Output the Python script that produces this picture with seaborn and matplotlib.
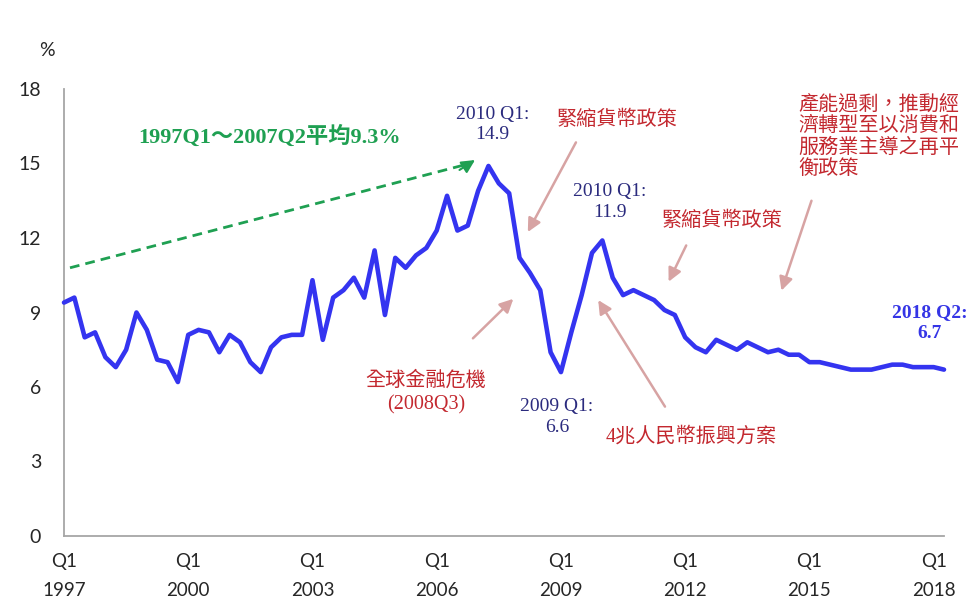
import matplotlib
matplotlib.use("Agg")
import matplotlib.pyplot as plt
import seaborn as sns
import pandas as pd

# China real GDP growth, year-on-year, quarterly 1997Q1 - 2018Q2
start_year = 1997
gdp_growth = [
    9.4, 9.6, 8.0, 8.2,      # 1997
    7.2, 6.8, 7.5, 9.0,      # 1998
    8.3, 7.1, 7.0, 6.2,      # 1999
    8.1, 8.3, 8.2, 7.4,      # 2000
    8.1, 7.8, 7.0, 6.6,      # 2001
    7.6, 8.0, 8.1, 8.1,      # 2002
    10.3, 7.9, 9.6, 9.9,     # 2003
    10.4, 9.6, 11.5, 8.9,    # 2004
    11.2, 10.8, 11.3, 11.6,  # 2005
    12.3, 13.7, 12.3, 12.5,  # 2006
    13.9, 14.9, 14.2, 13.8,  # 2007
    11.2, 10.6, 9.9, 7.4,    # 2008
    6.6, 8.2, 9.7, 11.4,     # 2009
    11.9, 10.4, 9.7, 9.9,    # 2010
    9.7, 9.5, 9.1, 8.9,      # 2011
    8.0, 7.6, 7.4, 7.9,      # 2012
    7.7, 7.5, 7.8, 7.6,      # 2013
    7.4, 7.5, 7.3, 7.3,      # 2014
    7.0, 7.0, 6.9, 6.8,      # 2015
    6.7, 6.7, 6.7, 6.8,      # 2016
    6.9, 6.9, 6.8, 6.8,      # 2017
    6.8, 6.7,                # 2018
]
quarter_index = list(range(len(gdp_growth)))
tick_years = [1997, 2000, 2003, 2006, 2009, 2012, 2015, 2018]
tick_positions = [(y - start_year) * 4 for y in tick_years]
tick_labels = [f"Q1\n{y}" for y in tick_years]
y_ticks = [0, 3, 6, 9, 12, 15, 18]

df = pd.DataFrame({"q": quarter_index, "growth": gdp_growth})

sns.set_style("white")
plt.rcParams["font.family"] = ["Liberation Serif", "Noto Sans CJK TC", "DejaVu Sans"]

LINE_BLUE = "#3434F0"
NAVY = "#2B2B7E"
RED = "#C3282F"
PINK = "#D7A3A3"
GREEN = "#1FA052"
AXIS_GRAY = "#A6A6A6"
TICK_FONT = ["Lato", "DejaVu Sans"]
SERIF_CJK = ["Liberation Serif", "Noto Sans CJK TC"]

fig = plt.figure(figsize=(9.74, 6.01), dpi=100)
ax = fig.add_axes([64 / 974, 1 - 536 / 601, 880 / 974, 447 / 601])

sns.lineplot(data=df, x="q", y="growth", ax=ax, color=LINE_BLUE,
             linewidth=3.3, clip_on=False, zorder=5)
for ln in ax.lines:
    ln.set_solid_joinstyle("round")
    ln.set_solid_capstyle("round")

ax.set_xlim(0, len(gdp_growth) - 1)
ax.set_ylim(0, 18)
ax.set_xlabel("")
ax.set_ylabel("")
ax.set_yticks(y_ticks)
ax.set_yticklabels([str(v) for v in y_ticks], family=TICK_FONT, fontsize=14,
                   color="#262626")
ax.set_xticks(tick_positions)
ax.set_xticklabels(tick_labels, family=TICK_FONT, fontsize=13.5,
                   color="#262626", linespacing=1.85)

for side in ("top", "right"):
    ax.spines[side].set_visible(False)
for side in ("left", "bottom"):
    ax.spines[side].set_color(AXIS_GRAY)
    ax.spines[side].set_linewidth(1.3)
ax.tick_params(axis="both", direction="out", length=5.5, width=1.2,
               color=AXIS_GRAY)
ax.tick_params(axis="y", pad=11)
ax.tick_params(axis="x", pad=7)

fig.text(47 / 974, 1 - 50 / 601, "%", family=TICK_FONT, fontsize=14,
         color="#262626", ha="center", va="center")

# Long-run average trend arrow
ax.plot([0.58, 39.2], [10.8, 15.0], color=GREEN, lw=2.0,
        linestyle=(0, (3.5, 2.2)), clip_on=False, zorder=4)
ax.annotate("", xy=(39.7, 15.14), xytext=(38.2, 14.74),
            arrowprops=dict(arrowstyle="-|>", color=GREEN, lw=1.5,
                            mutation_scale=20, shrinkA=0, shrinkB=0))
ax.text(19.9, 16.07, "1997Q1～2007Q2平均9.3%", family=SERIF_CJK,
        fontsize=16, fontweight="bold", color=GREEN, ha="center", va="center")

# Value call-outs
ax.text(41.4, 16.57, "2010 Q1:\n14.9", family=SERIF_CJK, fontsize=14,
        color=NAVY, ha="center", va="center", linespacing=1.3)
ax.text(52.7, 13.45, "2010 Q1:\n11.9", family=SERIF_CJK, fontsize=14,
        color=NAVY, ha="center", va="center", linespacing=1.3)
ax.text(47.6, 4.81, "2009 Q1:\n6.6", family=SERIF_CJK, fontsize=14,
        color=NAVY, ha="center", va="center", linespacing=1.3)
ax.text(83.65, 8.58, "2018 Q2:\n6.7", family=SERIF_CJK, fontsize=14,
        fontweight="bold", color="#3535E6", ha="center", va="center",
        linespacing=1.3)

# Policy / event notes
ax.text(53.4, 16.72, "緊縮貨幣政策", family=SERIF_CJK, fontsize=14.5, color=RED,
        ha="center", va="center")
ax.text(63.6, 12.69, "緊縮貨幣政策", family=SERIF_CJK, fontsize=14.5, color=RED,
        ha="center", va="center")
ax.text(70.9, 16.07, "產能過剩，推動經\n濟轉型至以消費和\n服務業主導之再平\n衡政策",
        family=SERIF_CJK, fontsize=14.5, color=RED, ha="left", va="center",
        linespacing=1.18)
ax.text(34.96, 5.76, "全球金融危機\n(2008Q3)", family=SERIF_CJK, fontsize=14.5,
        color=RED, ha="center", va="center", linespacing=1.35)
ax.text(60.55, 4.0, "4兆人民幣振興方案", family=SERIF_CJK, fontsize=14.5, color=RED,
        ha="center", va="center")

arrow_kw = dict(arrowstyle="-|>", color=PINK, lw=1.8, mutation_scale=20,
                shrinkA=0, shrinkB=0)
for tail, head in [((49.45, 15.85), (44.8, 12.24)),
                   ((39.5, 7.96), (43.4, 9.55)),
                   ((58.05, 5.21), (51.6, 9.50)),
                   ((60.1, 11.70), (58.4, 10.24)),
                   ((72.2, 13.50), (69.3, 9.88))]:
    ax.annotate("", xy=head, xytext=tail, arrowprops=arrow_kw)

fig.savefig("out.png", dpi=100)
